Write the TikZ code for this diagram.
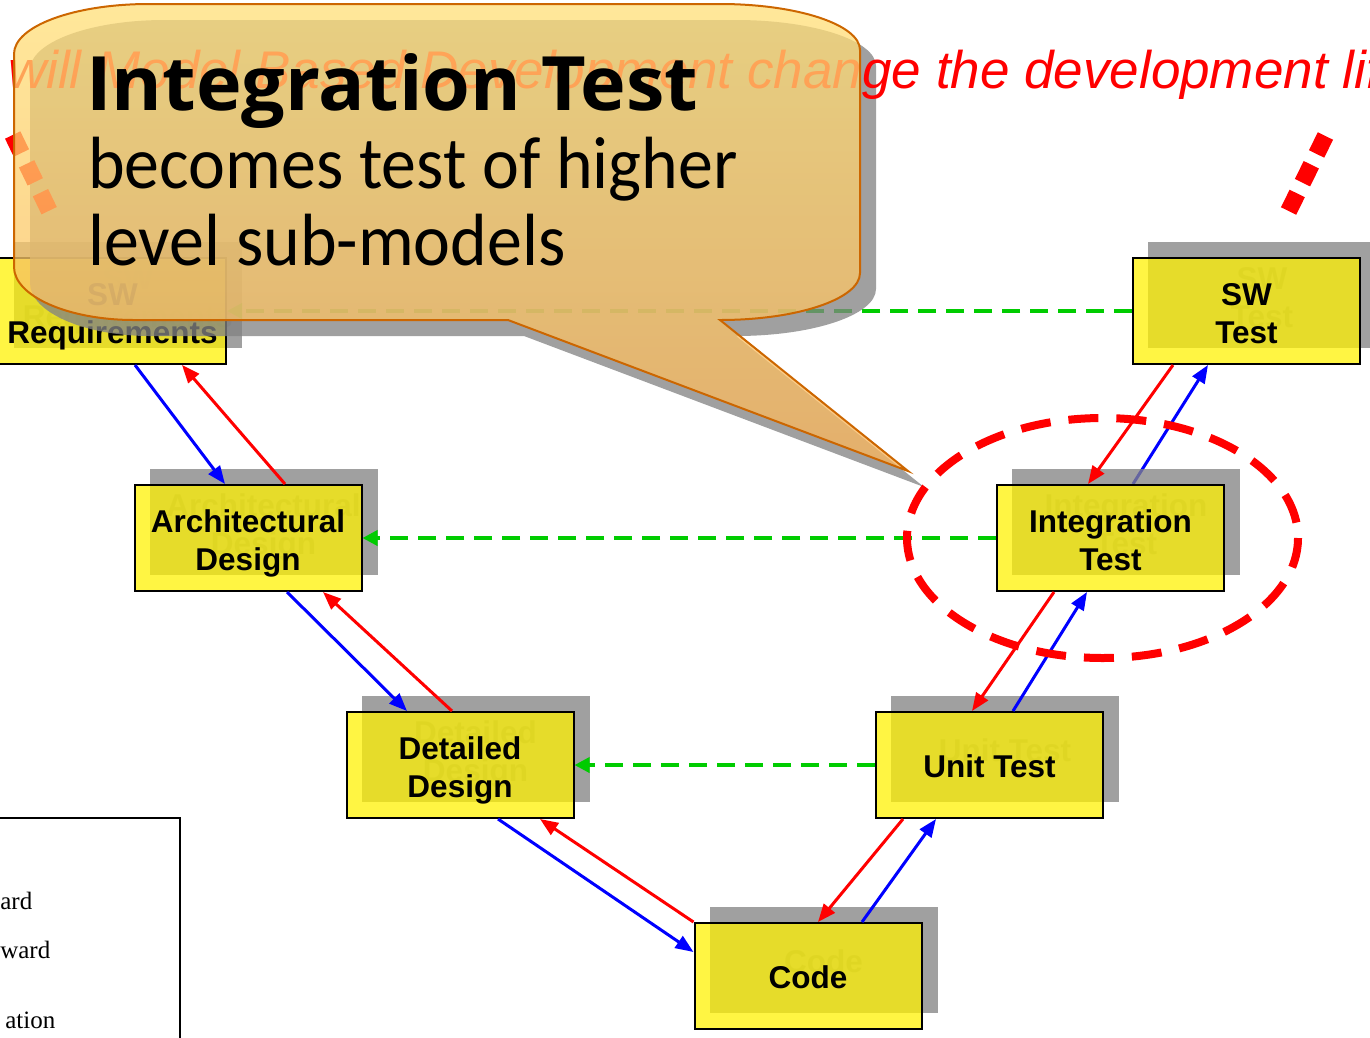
\documentclass[tikz,border=0pt]{standalone}
\usepackage{fontspec}
\usetikzlibrary{arrows.meta}
\newfontfamily\stagefont{Liberation Sans}
\newfontfamily\notefont[FakeStretch=0.944]{Carlito}
\newfontfamily\notetitlefont[FakeStretch=1.03]{Open Sans}
\newfontfamily\legendfont{Liberation Serif}
\definecolor{shadowgray}{RGB}{131,131,131}
\definecolor{tracegreen}{RGB}{0,204,0}
\definecolor{noteborder}{RGB}{204,102,0}
\definecolor{notetop}{RGB}{255,224,121}
\definecolor{notebottom}{RGB}{251,181,91}
\pgfdeclarelayer{paper}
\pgfdeclarelayer{under}
\pgfdeclarelayer{shade}
\pgfdeclarelayer{trace}
\pgfsetlayers{paper,under,shade,trace,main}
\tikzset{
  stagetext/.style={align=center, inner sep=0pt,
    font=\stagefont\bfseries\fontsize{31.5}{38}\selectfont},
  twolines/.style={text height=64.6pt, text depth=0pt},
  oneline/.style={text height=24.6pt, text depth=0pt},
  stage/.style={stagetext, draw=black, line width=2pt, fill=yellow,
    fill opacity=0.737, text opacity=1, text=black,
    minimum width=227pt, minimum height=106pt},
  stageshade/.style={stagetext, fill=shadowgray, text=shadowgray,
    opacity=0.765, text opacity=0.765, minimum width=228pt, minimum height=106pt},
  fwd/.style={draw=blue, line width=3pt, -{Triangle[length=18pt,width=14pt]}},
  bwd/.style={draw=red, line width=3pt, -{Triangle[length=18pt,width=14pt]}},
  tracelink/.style={draw=tracegreen, line width=3.5pt,
    dash pattern=on 18pt off 10pt, -{Triangle[length=15pt,width=15pt]}},
  legendtext/.style={anchor=base east, inner sep=0pt,
    font=\legendfont\fontsize{25}{30}\selectfont},
}
\begin{document}
\begin{tikzpicture}[x=1pt,y=-1pt]
\useasboundingbox (0,0) rectangle (1370,1037);
\clip (0,0) rectangle (1370,1037);
\begin{pgfonlayer}{paper}
  \fill[white] (0,0) rectangle (1370,1037);
\end{pgfonlayer}

% legend frame (partly outside the page)
\draw[line width=2.5pt] (-10,818) -- (180,818) -- (180,1050);
\node[legendtext] (lg1) at (32.5,909) {ard};
\node[legendtext] (lg2) at (50.5,958) {ward};
\node[legendtext] (lg3) at (55.5,1028) {ation};

% shadows of the stages, with their faint text
\begin{pgfonlayer}{shade}
  \node[stageshade, twolines] (req-s)   at (128,295)    {SW\\Requirements};
  \node[stageshade, twolines] (swt-s)   at (1262,295)   {SW\\Test};
  \node[stageshade, twolines] (arch-s)  at (263.5,522)  {Architectural\\Design};
  \node[stageshade, twolines] (integ-s) at (1126,522)   {Integration\\Test};
  \node[stageshade, twolines] (det-s)   at (475.5,749)  {Detailed\\Design};
  \node[stageshade, oneline]  (unit-s)  at (1005,749)   {Unit Test};
  \node[stageshade, oneline]  (code-s)  at (823.5,960)  {Code};
\end{pgfonlayer}

% the stages of the V
\node[stage, twolines] (req)   at (112.5,311) {SW\\Requirements};
\node[stage, twolines] (swt)   at (1246.5,311) {SW\\Test};
\node[stage, twolines] (arch)  at (248,538)   {Architectural\\Design};
\node[stage, twolines] (integ) at (1110.5,538) {Integration\\Test};
\node[stage, twolines] (det)   at (460,765)   {Detailed\\Design};
\node[stage, oneline]  (unit)  at (989.5,765) {Unit Test};
\node[stage, oneline]  (code)  at (808,976)   {Code};

% downward (blue) and upward (red) links
\draw[fwd] ([xshift=22.5pt]req.south) -- ([xshift=-23pt]arch.north);
\draw[bwd] ([xshift=37pt]arch.north) -- ([xshift=69.5pt]req.south);
\draw[fwd] ([xshift=39pt]arch.south) -- ([xshift=-53pt]det.north);
\draw[bwd] ([xshift=-8pt]det.north) -- ([xshift=75pt]arch.south);
\draw[fwd] ([xshift=38pt]det.south) -- ([yshift=24pt]code.west);
\draw[bwd] (code.north west) -- ([xshift=80pt]det.south);
\draw[bwd] ([xshift=-86.5pt]unit.south) -- ([xshift=10pt]code.north);
\draw[fwd] ([xshift=54pt]code.north) -- ([xshift=-53.5pt]unit.south);
\draw[bwd] ([xshift=-56.5pt]integ.south) -- ([xshift=-17.5pt]unit.north);
\draw[fwd] ([xshift=23.5pt]unit.north) -- ([xshift=-23.5pt]integ.south);
\draw[bwd] ([xshift=-73.5pt]swt.south) -- ([xshift=-22.5pt]integ.north);
\begin{pgfonlayer}{under}
  \draw[fwd] ([xshift=22.5pt]integ.north) -- ([xshift=-38.5pt]swt.south);
\end{pgfonlayer}

% test-to-specification links
\begin{pgfonlayer}{trace}
  \draw[tracelink] (swt.west) -- (req.east);
  \draw[tracelink] (integ.west) -- (arch.east);
  \draw[tracelink] (unit.west) -- (det.east);
\end{pgfonlayer}

% shadow of the call-out
\fill[shadowgray, opacity=0.765, shift={(16,16)}]
  (149,4) -- (720,4) .. controls (797,4) and (860,24.6) .. (860,50)
  -- (860,273) .. controls (860,299) and (797,320) .. (720,320)
  -- (908,471) -- (508,320) -- (134,320)
  .. controls (68,320) and (14,296) .. (14,267)
  -- (14,54) .. controls (14,26) and (74.5,4) .. (149,4) -- cycle;

% highlight round the integration test
\coordinate (focus) at (1102.5,538);
\draw[red, line width=8pt, dash pattern=on 30pt off 18pt]
  (focus) ellipse [x radius=195.5, y radius=120];

% question and the dotted strokes below it
\node[anchor=base west, inner sep=0pt, text=red,
  font=\stagefont\itshape\fontsize{53}{60}\selectfont] (question) at (8,88)
  {will Model Based Development change the development lifecycle?};
\draw[red, line width=17pt, dash pattern=on 20pt off 12pt] (12.7,135) -- (49.3,211);
\draw[red, line width=17pt, dash pattern=on 20pt off 12pt] (1325.4,136) -- (1288.6,211);

% call-out
\draw[draw=noteborder, line width=2pt, top color=notetop,
  bottom color=notebottom, fill opacity=0.75, draw opacity=1]
    (149,4) -- (720,4) .. controls (797,4) and (860,24.6) .. (860,50)
    -- (860,273) .. controls (860,299) and (797,320) .. (720,320)
    -- (908,471) -- (508,320) -- (134,320)
    .. controls (68,320) and (14,296) .. (14,267)
    -- (14,54) .. controls (14,26) and (74.5,4) .. (149,4) -- cycle;
\node[anchor=base west, inner sep=0pt,
  font=\notetitlefont\bfseries\fontsize{75}{75}\selectfont] (notetitle) at (86,110)
  {Integration Test};
\node[anchor=base west, inner sep=0pt,
  font=\notefont\fontsize{74}{77}\selectfont] (noteline1) at (88,188)
  {becomes test of higher};
\node[anchor=base west, inner sep=0pt,
  font=\notefont\fontsize{74}{77}\selectfont] (noteline2) at (88,265)
  {level sub-models};
\end{tikzpicture}
\end{document}
